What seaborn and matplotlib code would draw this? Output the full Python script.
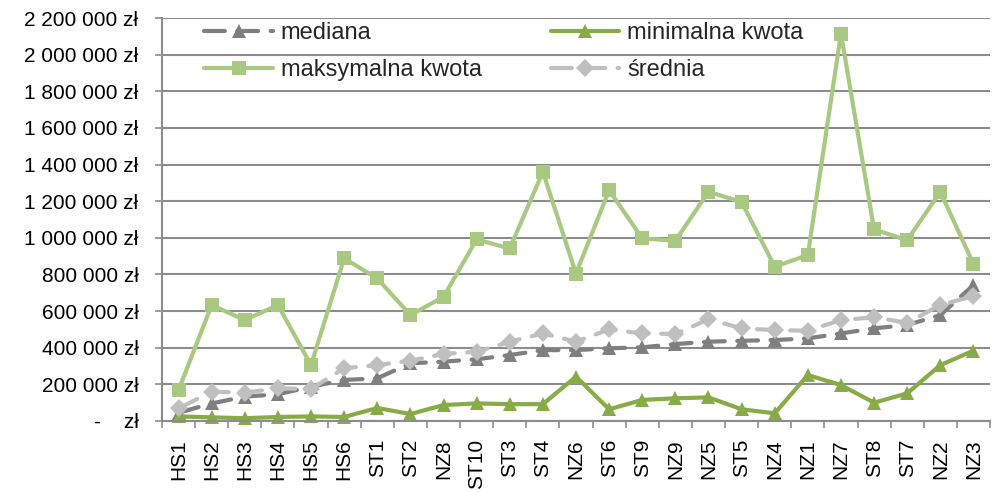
import matplotlib
matplotlib.use("Agg")
import matplotlib.pyplot as plt
import seaborn as sns
import numpy as np
from matplotlib.ticker import FixedLocator, FuncFormatter

categories = ["HS1", "HS2", "HS3", "HS4", "HS5", "HS6", "ST1", "ST2", "NZ8", "ST10",
              "ST3", "ST4", "NZ6", "ST6", "ST9", "NZ9", "NZ5", "ST5", "NZ4", "NZ1",
              "NZ7", "ST8", "ST7", "NZ2", "NZ3"]

mediana = [45000, 96000, 133000, 146000, 187000, 224000, 233000, 315000, 324000, 337000,
           360000, 387000, 387000, 397000, 402000, 420000, 433000, 438000, 442000, 451000,
           478000, 506000, 524000, 578000, 742000]
minimalna = [25000, 20000, 15000, 22000, 25000, 22000, 71000, 38000, 87000, 96000,
             92000, 92000, 242000, 64000, 115000, 124000, 129000, 64000, 42000, 251000,
             196000, 100000, 151000, 305000, 384000]
maksymalna = [169000, 633000, 551000, 633000, 305000, 888000, 778000, 578000, 678000, 991000,
              942000, 1360000, 805000, 1260000, 997000, 984000, 1251000, 1196000, 842000, 906000,
              2115000, 1046000, 987000, 1251000, 857000]
srednia = [69000, 160000, 155000, 178000, 175000, 288000, 305000, 329000, 366000, 378000,
           433000, 478000, 433000, 500000, 478000, 475000, 555000, 506000, 496000, 493000,
           551000, 566000, 536000, 633000, 682000]

y_ticks = list(range(0, 2200001, 200000))

sns.set_theme(style="white")
plt.rcParams["font.family"] = ["Liberation Sans", "DejaVu Sans"]

fig = plt.figure(figsize=(9.93, 4.92), dpi=100)
ax = fig.add_axes([162 / 993, 1 - 421 / 492, (990 - 162) / 993, (421 - 18) / 492])

x = np.arange(len(categories))
grid_c = "#8c8c8c"

series = [
    ("mediana", mediana, "#7f7f7f", "^", (0, (5.0, 3.0))),
    ("minimalna kwota", minimalna, "#87ab47", "^", "-"),
    ("maksymalna kwota", maksymalna, "#a9c882", "s", "-"),
    ("średnia", srednia, "#bfbfbf", "D", (0, (5.0, 3.0))),
]
handles = {}
for name, vals, col, mk, ls in series:
    sns.lineplot(x=x, y=vals, ax=ax, color=col, marker=mk,
                 markersize=10.5 if mk != "D" else 9, linewidth=3,
                 linestyle=ls, markeredgewidth=0, markeredgecolor=col,
                 sort=False, label=name, clip_on=False,
                 dash_capstyle="round", solid_capstyle="round")
    handles[name] = ax.lines[-1]

ax.set_xlim(-0.5, len(categories) - 0.5)
ax.set_ylim(0, 2200000)

ax.set_axisbelow(True)
ax.yaxis.set_major_locator(FixedLocator(y_ticks))
ax.grid(axis="y", color=grid_c, linewidth=1.5)
ax.grid(axis="x", visible=False)


def fmt(v, pos):
    if v == 0:
        return "-    zł"
    s = f"{int(v):,}".replace(",", " ")
    return s + " zł"


ax.yaxis.set_major_formatter(FuncFormatter(fmt))
ax.set_xticks(x)
ax.set_xticklabels(categories, rotation=90)
ax.set_xticks(np.arange(-0.5, len(categories)), minor=True)
ax.tick_params(axis="x", which="major", length=0, pad=13, labelsize=15, colors="black")
ax.tick_params(axis="x", which="minor", length=5, width=1.2, color=grid_c, bottom=True)
ax.tick_params(axis="y", which="major", length=5, width=1.2, color=grid_c, pad=12,
               labelsize=15, left=True, labelcolor="black")

for s in ["top", "right"]:
    ax.spines[s].set_visible(False)
for s in ["left", "bottom"]:
    ax.spines[s].set_color(grid_c)
    ax.spines[s].set_linewidth(1.5)

order = ["mediana", "maksymalna kwota", "minimalna kwota", "średnia"]
leg = ax.legend([handles[n] for n in order], order, ncol=2, frameon=False,
                loc="upper left", bbox_to_anchor=(40 / 828, 0.995), fontsize=17,
                handlelength=2.9, handletextpad=0.34, columnspacing=2.92,
                labelspacing=0.62, borderpad=0.1, borderaxespad=0.0)

fig.savefig("out.png", dpi=100)
